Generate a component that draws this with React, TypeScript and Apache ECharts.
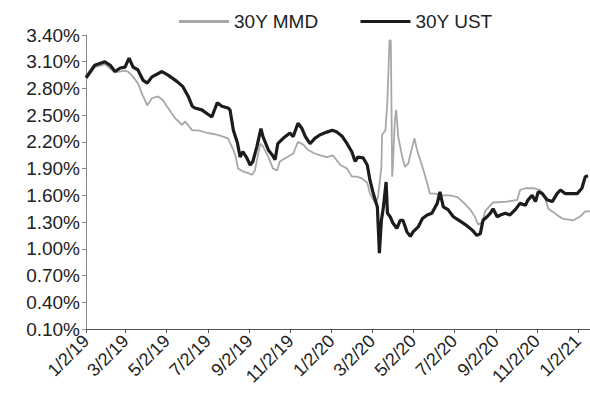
import { useEffect, useRef } from "react";
import * as echarts from "echarts";

const FONT = '"Liberation Sans", Arial, sans-serif';

const seriesNames = ["30Y MMD", "30Y UST"];

const yMin = 0.1;
const yMax = 3.4;
const yStep = 0.3;

const xStart = "2019-01-02";
const xEnd = "2021-01-20";
const xTickDates = [
  "2019-01-02", "2019-03-02", "2019-05-02", "2019-07-02", "2019-09-02", "2019-11-02",
  "2020-01-02", "2020-03-02", "2020-05-02", "2020-07-02", "2020-09-02", "2020-11-02",
  "2021-01-02",
];

const ustDates = [
  "2019-01-02", "2019-01-15", "2019-01-30", "2019-02-07", "2019-02-14", "2019-02-22",
  "2019-03-01", "2019-03-07", "2019-03-13", "2019-03-20", "2019-03-28", "2019-04-03",
  "2019-04-10", "2019-04-25", "2019-05-04", "2019-05-17", "2019-05-26", "2019-06-03",
  "2019-06-09", "2019-06-13", "2019-06-23", "2019-07-08", "2019-07-16", "2019-07-23",
  "2019-08-01", "2019-08-04", "2019-08-09", "2019-08-15", "2019-08-19", "2019-08-23",
  "2019-08-29", "2019-09-03", "2019-09-07", "2019-09-13", "2019-09-19", "2019-09-22",
  "2019-09-30", "2019-10-06", "2019-10-10", "2019-10-14", "2019-10-22", "2019-11-01",
  "2019-11-06", "2019-11-13", "2019-11-19", "2019-11-24", "2019-12-01", "2019-12-08",
  "2019-12-16", "2019-12-26", "2020-01-03", "2020-01-10", "2020-01-18", "2020-01-25",
  "2020-02-01", "2020-02-06", "2020-02-10", "2020-02-18", "2020-02-24", "2020-02-28",
  "2020-03-04", "2020-03-10", "2020-03-13", "2020-03-16", "2020-03-19", "2020-03-23",
  "2020-03-25", "2020-03-29", "2020-04-02", "2020-04-08", "2020-04-13", "2020-04-17",
  "2020-04-23", "2020-04-28", "2020-05-02", "2020-05-10", "2020-05-16", "2020-05-23",
  "2020-05-30", "2020-06-07", "2020-06-11", "2020-06-16", "2020-06-23", "2020-07-01",
  "2020-07-11", "2020-07-21", "2020-07-29", "2020-08-05", "2020-08-10", "2020-08-14",
  "2020-08-20", "2020-08-25", "2020-08-29", "2020-09-04", "2020-09-09", "2020-09-16",
  "2020-09-23", "2020-10-01", "2020-10-08", "2020-10-16", "2020-10-20", "2020-10-26",
  "2020-10-31", "2020-11-04", "2020-11-10", "2020-11-17", "2020-11-25", "2020-12-02",
  "2020-12-07", "2020-12-14", "2020-12-25", "2021-01-01", "2021-01-08", "2021-01-13",
  "2021-01-17",
];
const ustValues = [
  2.92, 3.06, 3.10, 3.06, 2.99, 3.03,
  3.04, 3.14, 3.04, 3.01, 2.89, 2.86,
  2.93, 2.99, 2.95, 2.88, 2.82, 2.71,
  2.60, 2.58, 2.56, 2.48, 2.64, 2.60,
  2.58, 2.56, 2.33, 2.19, 2.03, 2.09,
  2.02, 1.94, 1.98, 2.15, 2.35, 2.26,
  2.11, 2.05, 2.00, 2.18, 2.24, 2.30,
  2.26, 2.41, 2.35, 2.26, 2.18, 2.24,
  2.28, 2.31, 2.33, 2.31, 2.26, 2.18,
  2.09, 1.98, 2.03, 2.02, 1.94, 1.77,
  1.62, 1.47, 0.95, 1.32, 1.47, 1.75,
  1.40, 1.36, 1.29, 1.23, 1.32, 1.32,
  1.19, 1.14, 1.19, 1.25, 1.34, 1.38,
  1.40, 1.51, 1.64, 1.47, 1.44, 1.36,
  1.31, 1.26, 1.21, 1.15, 1.17, 1.32,
  1.36, 1.40, 1.45, 1.36, 1.38, 1.40,
  1.38, 1.44, 1.51, 1.49, 1.55, 1.60,
  1.53, 1.64, 1.62, 1.55, 1.53, 1.62,
  1.66, 1.62, 1.62, 1.62, 1.68, 1.81,
  1.82,
];

const mmdDates = [
  "2019-01-02", "2019-01-15", "2019-01-30", "2019-02-14", "2019-03-01", "2019-03-05",
  "2019-03-11", "2019-03-20", "2019-03-28", "2019-04-03", "2019-04-10", "2019-04-19",
  "2019-04-26", "2019-05-04", "2019-05-14", "2019-05-25", "2019-05-29", "2019-06-09",
  "2019-06-18", "2019-07-02", "2019-07-17", "2019-08-01", "2019-08-09", "2019-08-12",
  "2019-08-16", "2019-08-23", "2019-08-31", "2019-09-06", "2019-09-10", "2019-09-18",
  "2019-09-22", "2019-09-30", "2019-10-07", "2019-10-13", "2019-10-17", "2019-10-28",
  "2019-11-06", "2019-11-13", "2019-11-21", "2019-11-28", "2019-12-08", "2019-12-16",
  "2019-12-26", "2020-01-04", "2020-01-15", "2020-01-25", "2020-02-01", "2020-02-09",
  "2020-02-16", "2020-02-24", "2020-02-28", "2020-03-04", "2020-03-07", "2020-03-11",
  "2020-03-16", "2020-03-17", "2020-03-22", "2020-03-25", "2020-03-28", "2020-03-30",
  "2020-04-01", "2020-04-02", "2020-04-05", "2020-04-07", "2020-04-10", "2020-04-16",
  "2020-04-20", "2020-04-25", "2020-05-01", "2020-05-04", "2020-05-08", "2020-05-16",
  "2020-05-23", "2020-05-27", "2020-06-04", "2020-06-14", "2020-06-26", "2020-07-07",
  "2020-07-16", "2020-07-26", "2020-08-02", "2020-08-07", "2020-08-13", "2020-08-17",
  "2020-08-25", "2020-08-29", "2020-09-19", "2020-10-04", "2020-10-08", "2020-10-16",
  "2020-10-28", "2020-11-07", "2020-11-14", "2020-11-19", "2020-11-25", "2020-12-02",
  "2020-12-10", "2020-12-26", "2021-01-05", "2021-01-13", "2021-01-20",
];
const mmdValues = [
  2.90, 3.04, 3.07, 2.98, 3.00, 2.99,
  2.95, 2.86, 2.71, 2.61, 2.69, 2.71,
  2.67, 2.58, 2.47, 2.39, 2.43, 2.33,
  2.33, 2.30, 2.28, 2.24, 2.11, 2.05,
  1.90, 1.87, 1.85, 1.83, 1.88, 2.18,
  2.15, 2.03, 1.90, 1.88, 1.98, 2.03,
  2.07, 2.20, 2.17, 2.11, 2.07, 2.05,
  2.03, 2.05, 1.94, 1.90, 1.81, 1.81,
  1.79, 1.74, 1.62, 1.55, 1.51, 1.58,
  1.92, 2.28, 2.33, 2.67, 3.34, 3.34,
  1.81, 1.92, 2.45, 2.56, 2.26, 2.03,
  1.92, 1.96, 2.15, 2.24, 2.11, 1.92,
  1.74, 1.62, 1.62, 1.60, 1.60, 1.58,
  1.52, 1.44, 1.36, 1.27, 1.30, 1.42,
  1.49, 1.52, 1.53, 1.55, 1.66, 1.68,
  1.68, 1.66, 1.58, 1.45, 1.42, 1.38,
  1.34, 1.32, 1.36, 1.42, 1.42,
];

const DAY = 86400000;
const baseTime = Date.UTC(2019, 0, 2);

// day offset from 2019-01-02
function dayOf(s: string): number {
  const [y, m, d] = s.split("-").map(Number);
  return Math.round((Date.UTC(y, m - 1, d) - baseTime) / DAY);
}

function fmtDay(v: number): string {
  const d = new Date(baseTime + Math.round(v) * DAY);
  return `${d.getUTCMonth() + 1}/${d.getUTCDate()}/${String(d.getUTCFullYear()).slice(2)}`;
}

export default function App() {
  const ref = useRef<HTMLDivElement>(null);

  useEffect(() => {
    if (!ref.current) return;
    const chart = echarts.init(ref.current, undefined, { renderer: "svg" });
    const tickVals = xTickDates.map(dayOf);
    chart.setOption({
      animation: false,
      backgroundColor: "#ffffff",
      textStyle: { fontFamily: FONT },
      legend: {
        left: 174,
        top: 7,
        icon: "rect",
        itemWidth: 50,
        itemHeight: 3,
        itemGap: 42,
        textStyle: { fontSize: 19, fontFamily: FONT, color: "#222222" },
        data: [
          { name: seriesNames[0], itemStyle: { color: "#a8a8a8" } },
          { name: seriesNames[1], itemStyle: { color: "#1c1c1c" } },
        ],
      },
      grid: { left: 86, right: 0, top: 35, bottom: 73, containLabel: false },
      xAxis: {
        type: "value",
        min: dayOf(xStart),
        max: dayOf(xEnd),
        splitLine: { show: false },
        axisLine: { show: true, lineStyle: { color: "#555555", width: 1.2 } },
        axisTick: {
          show: true,
          length: 4,
          customValues: tickVals,
          lineStyle: { color: "#555555" },
        },
        axisLabel: {
          customValues: tickVals,
          rotate: 45,
          margin: 9,
          fontSize: 18,
          fontFamily: FONT,
          color: "#222222",
          formatter: (v: number) => fmtDay(v),
        },
      },
      yAxis: {
        type: "value",
        min: yMin,
        max: yMax,
        interval: yStep,
        splitLine: { show: false },
        axisLine: { show: true, lineStyle: { color: "#888888", width: 1 } },
        axisTick: { show: true, length: 4, lineStyle: { color: "#888888" } },
        axisLabel: {
          fontSize: 19,
          fontFamily: FONT,
          color: "#222222",
          margin: 6,
          formatter: (v: number) => v.toFixed(2) + "%",
        },
      },
      series: [
        {
          name: seriesNames[0],
          type: "line",
          symbol: "none",
          lineStyle: { color: "#a8a8a8", width: 1.8 },
          itemStyle: { color: "#a8a8a8" },
          data: mmdDates.map((d, i) => [dayOf(d), mmdValues[i]]),
        },
        {
          name: seriesNames[1],
          type: "line",
          symbol: "none",
          lineStyle: { color: "#1c1c1c", width: 3.2 },
          itemStyle: { color: "#1c1c1c" },
          data: ustDates.map((d, i) => [dayOf(d), ustValues[i]]),
        },
      ],
    });
    return () => chart.dispose();
  }, []);

  return (
    <div
      ref={ref}
      style={{ position: "fixed", left: 0, top: 0, width: 590, height: 402 }}
    />
  );
}
